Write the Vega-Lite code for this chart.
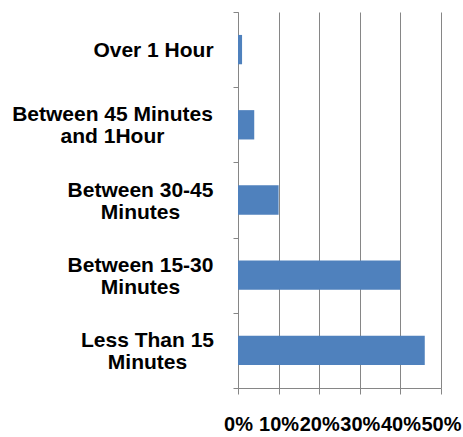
{
  "$schema": "https://vega.github.io/schema/vega-lite/v6.json",
  "autosize": "none",
  "padding": {"left": 238, "top": 12, "right": 22, "bottom": 49},
  "width": 203,
  "height": 376,
  "background": "white",
  "config": {"view": {"stroke": null}, "font": "Liberation Sans"},
  "data": {
    "values": [
      {"category": "Over 1 Hour", "share": 0.01},
      {"category": "Between 45 Minutes and 1Hour", "share": 0.04},
      {"category": "Between 30-45 Minutes", "share": 0.10},
      {"category": "Between 15-30 Minutes", "share": 0.40},
      {"category": "Less Than 15 Minutes", "share": 0.46}
    ]
  },
  "mark": {"type": "bar", "color": "#4F81BD", "height": {"band": 0.39}},
  "encoding": {
    "y": {
      "field": "category",
      "type": "nominal",
      "sort": null,
      "scale": {"paddingInner": 0, "paddingOuter": 0},
      "axis": {
        "title": null,
        "domainColor": "#868686",
        "domainWidth": 1,
        "tickColor": "#868686",
        "tickSize": 5,
        "tickBand": "extent",
        "grid": false,
        "labelFont": "Liberation Sans",
        "labelFontWeight": "bold",
        "labelFontSize": 21,
        "labelColor": "#000000",
        "labelLineHeight": 22,
        "labelAlign": "center",
        "labelBaseline": "middle",
        "labelLimit": 0,
        "labelOffset": {
          "condition": [
            {"test": "datum.value == 'Over 1 Hour'", "value": 1}
          ],
          "value": -10
        },
        "labelPadding": {
          "condition": [
            {"test": "datum.value == 'Over 1 Hour'", "value": 80},
            {"test": "datum.value == 'Between 45 Minutes and 1Hour'", "value": 121},
            {"test": "datum.value == 'Less Than 15 Minutes'", "value": 86}
          ],
          "value": 93
        },
        "labelExpr": "datum.value == 'Between 45 Minutes and 1Hour' ? ['Between 45 Minutes', 'and 1Hour'] : datum.value == 'Between 30-45 Minutes' ? ['Between 30-45', 'Minutes'] : datum.value == 'Between 15-30 Minutes' ? ['Between 15-30', 'Minutes'] : datum.value == 'Less Than 15 Minutes' ? ['Less Than 15', 'Minutes'] : datum.value"
      }
    },
    "x": {
      "field": "share",
      "type": "quantitative",
      "scale": {"domain": [0, 0.5], "nice": false},
      "axis": {
        "title": null,
        "values": [0, 0.1, 0.2, 0.3, 0.4, 0.5],
        "format": ".0%",
        "domainColor": "#868686",
        "tickColor": "#868686",
        "tickSize": 6,
        "grid": true,
        "gridColor": "#868686",
        "gridWidth": 1,
        "labelFont": "Liberation Sans",
        "labelFontWeight": "bold",
        "labelFontSize": 20,
        "labelColor": "#000000",
        "labelPadding": 20,
        "labelFlush": false,
        "labelOverlap": false
      }
    }
  }
}
